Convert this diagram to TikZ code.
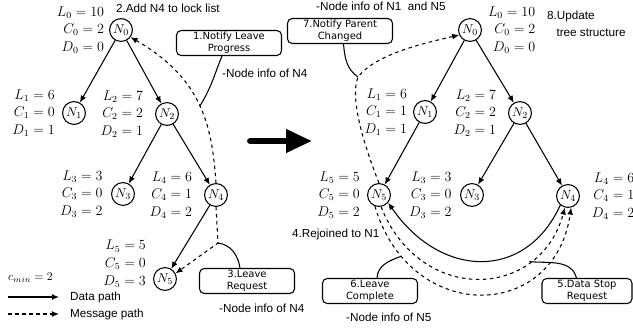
\documentclass[tikz,border=0pt]{standalone}
\usepackage{fontspec}
\setmainfont{Liberation Sans}
\newfontfamily\boxfont{DejaVu Sans}
\usetikzlibrary{positioning,arrows.meta}

\tikzset{
    tnode/.style={circle, draw, line width=0.9pt, minimum size=19.5pt, inner sep=0pt, font=\fontsize{11}{13}\selectfont},
    info/.style={align=right, inner sep=0pt, font=\fontsize{11.5}{14}\selectfont},
    callout/.style={draw, rounded corners=4pt, line width=0.9pt, minimum width=2.85cm, minimum height=0.75cm,
        align=center, inner sep=1pt, font=\boxfont\fontsize{8.5}{10}\selectfont},
    datapath/.style={-{Latex[length=6pt,width=5pt]}, line width=0.9pt},
    msgpath/.style={datapath, dashed},
    pointer/.style={line width=0.9pt},
}

\begin{document}
\begin{tikzpicture}[x=0.03cm, y=-0.03cm]
            \useasboundingbox (0,0) rectangle (633,327);

            \node[tnode] (a0) at (121,30) {$N_0$};
            \node[tnode] (a1) at (74,113) {$N_1$};
            \node[tnode] (a2) at (167,114) {$N_2$};
            \node[tnode] (a3) at (123,194) {$N_3$};
            \node[tnode] (a4) at (216,195) {$N_4$};
            \node[tnode] (a5) at (165,279) {$N_5$};

            \node[info, left=4pt of a0] (ia0) {$L_0=10$\\[1pt]$C_0=2$\\[1pt]$D_0=0$};
            \node[info, left=6pt of a1] (ia1) {$L_1=6$\\[1pt]$C_1=0$\\[1pt]$D_1=1$};
            \node[info, left=10pt of a2] (ia2) {$L_2=7$\\[1pt]$C_2=2$\\[1pt]$D_2=1$};
            \node[info, left=7pt of a3] (ia3) {$L_3=3$\\[1pt]$C_3=0$\\[1pt]$D_3=2$};
            \node[info, left=10pt of a4] (ia4) {$L_4=6$\\[1pt]$C_4=1$\\[1pt]$D_4=2$};
            \node[info, left=6pt of a5, yshift=13pt] (ia5) {$L_5=5$\\[1pt]$C_5=0$\\[1pt]$D_5=3$};

            \draw[datapath] (a0) -- (a1);
            \draw[datapath] (a0) -- (a2);
            \draw[datapath] (a2) -- (a3);
            \draw[datapath] (a2) -- (a4);
            \draw[datapath] (a4) -- (a5);

            \draw[msgpath] (a4.north) .. controls (212,130) and (205,80) .. coordinate[pos=0.5] (m1) (a0.-37);
            \coordinate (m3) at (218,243);
            \draw[msgpath] (a4.south) -- (m3) -- (a5.28);

            \node[callout, minimum width=3.15cm] (c1) at (229,43) {1.Notify Leave\\Progress};
            \draw[pointer] ([xshift=-6pt]c1.south) to[out=-112,in=58] (m1);
            \node[anchor=west] (t1) at (218,73) {-Node info of N4};
            \node[anchor=west] (t2) at (112,8) {2.Add N4 to lock list};

            \node[callout] (c3) at (247,281) {3.Leave\\Request};
            \draw[pointer] ([xshift=-6pt]c3.north) to[out=98,in=-8] (m3);
            \node[anchor=west] (t3) at (215,308) {-Node info of N4};

            \node[anchor=west] (cmin) at (4,278) {$c_{min}=2$};
            \coordinate (lg1) at (8,297);
            \node[anchor=west] (t4) at (66,297) {Data path};
            \draw[datapath] (lg1) -- ([xshift=-6pt]t4.west);
            \coordinate (lg2) at (8,314);
            \node[anchor=west] (t5) at (66,314) {Message path};
            \draw[msgpath] (lg2) -- ([xshift=-6pt]t5.west);

            \coordinate (bs) at (250,141);
            \coordinate (be) at (312,141);
            \draw[line width=5pt, line cap=round, -{Triangle[length=22pt,width=19pt]}] (bs) -- (be);

            \node[tnode] (b0) at (470,30) {$N_0$};
            \node[tnode] (b1) at (425,112) {$N_1$};
            \node[tnode] (b2) at (520,113) {$N_2$};
            \node[tnode] (b5) at (379,195) {$N_5$};
            \node[tnode] (b3) at (472,195) {$N_3$};
            \node[tnode] (b4) at (568,196) {$N_4$};

            \node[info, right=5pt of b0] (ib0) {$L_0=10$\\[1pt]$C_0=2$\\[1pt]$D_0=0$};
            \node[info, left=5pt of b1] (ib1) {$L_1=6$\\[1pt]$C_1=1$\\[1pt]$D_1=1$};
            \node[info, left=10pt of b2] (ib2) {$L_2=7$\\[1pt]$C_2=2$\\[1pt]$D_2=1$};
            \node[info, left=6pt of b5] (ib5) {$L_5=5$\\[1pt]$C_5=0$\\[1pt]$D_5=2$};
            \node[info, left=7pt of b3] (ib3) {$L_3=3$\\[1pt]$C_3=0$\\[1pt]$D_3=2$};
            \node[info, right=10pt of b4] (ib4) {$L_4=6$\\[1pt]$C_4=1$\\[1pt]$D_4=2$};

            \draw[datapath] (b0) -- (b1);
            \draw[datapath] (b0) -- (b2);
            \draw[datapath] (b1) -- (b5);
            \draw[datapath] (b2) -- (b3);
            \draw[datapath] (b2) -- (b4);

            \coordinate (m7) at (358,77);
            \draw[msgpath] (b5.north) .. controls (362,140) and (350,97) .. (m7) .. controls (375,55) and (420,44) .. (b0.205);
            \draw[datapath] (b4.-130) .. controls (525,282) and (440,278) .. (b5.-40);
            \draw[msgpath] (b5.-80) .. controls (420,305) and (540,300) .. coordinate[pos=0.74] (m5) (b4.-105);
            \draw[msgpath] (b5.-110) .. controls (410,325) and (555,322) .. coordinate[pos=0.17] (m6) (b4.-75);

            \node[callout, minimum width=3.15cm] (c7) at (340,31) {7.Notify Parent\\Changed};
            \draw[pointer] ([xshift=3pt]c7.south) to[out=-85,in=145] (m7);
            \node[anchor=west] (t7) at (312,6) {-Node info of N1\ \ and N5};
            \node[anchor=west, align=left] (t8) at (543,24) {8.Update\\[3pt]\hspace*{8pt}tree structure};

            \node[callout] (c6) at (370,291) {6.Leave\\Complete};
            \draw[pointer] ([xshift=6pt]c6.north) to[out=88,in=200] (m6);
            \node[anchor=west] (t6) at (342,317) {-Node info of N5};
            \node[anchor=west] (t9) at (288,234) {4.Rejoined to N1};

            \node[callout, minimum width=2.7cm] (c5) at (587,291) {5.Data Stop\\Request};
            \draw[pointer] ([xshift=-9pt]c5.north) to[out=105,in=-5] (m5);

\end{tikzpicture}
\end{document}
